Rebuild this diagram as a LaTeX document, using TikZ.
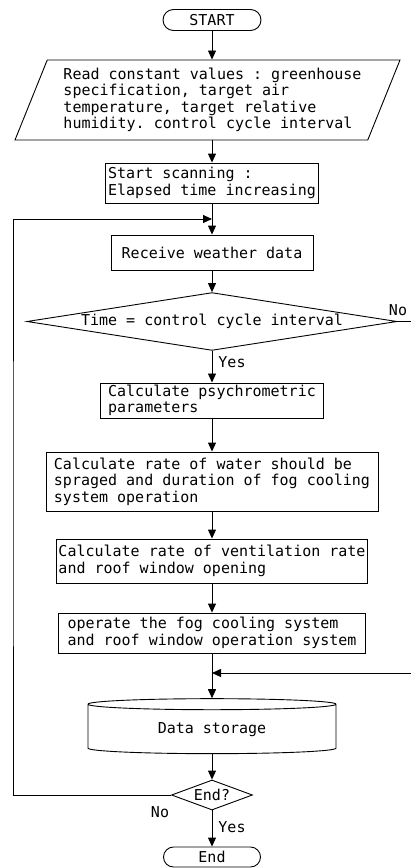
\documentclass[tikz,border=0pt]{standalone}
\usepackage{fontspec}
\setmonofont{DejaVu Sans Mono}
\usepackage{tikz}
\usetikzlibrary{shapes.misc, shapes.geometric, arrows.meta}

\tikzset{
    flowtext/.style={font=\ttfamily\fontsize{15}{16.5}\selectfont},
    procbox/.style={flowtext, draw, rectangle, align=left, inner sep=2pt},
    termbox/.style={flowtext, draw, rounded rectangle, inner sep=1pt},
    iobox/.style={flowtext, draw, trapezium, trapezium left angle=64, trapezium right angle=116, trapezium stretches body, align=left, inner sep=1pt},
    testbox/.style={flowtext, draw, diamond, inner sep=1pt},
    storebox/.style={flowtext, draw, cylinder, shape border rotate=90, aspect=0.1, inner sep=1pt},
    flowarrow/.style={-{Triangle[length=9pt,width=8pt]}},
    flowlabel/.style={flowtext, inner sep=1pt}
}

\begin{document}
\begin{tikzpicture}[x=1pt, y=-1pt, line width=0.9pt]
    \def \axis {212}
    \useasboundingbox (0,0) rectangle (411,868);
    \node[termbox, minimum width=100pt, minimum height=21pt] (start) at (\axis,20) {START};
    \node[iobox, minimum width=385pt, minimum height=80pt] (input) at (207.5,100) {\hspace*{10pt}Read constant values : greenhouse\\\hspace*{10pt}specification, target air\\\hspace*{10pt}temperature, target relative\\\hspace*{10pt}humidity. control cycle interval};
    \node[procbox, minimum width=213pt, minimum height=40pt] (scan) at (\axis,183) {Start scanning :\\Elapsed time increasing};
    \coordinate (loopin) at (\axis,219);
    \node[procbox, minimum width=202pt, minimum height=35pt] (receive) at (\axis,252.5) {Receive weather data};
    \node[testbox, aspect=6.4, minimum width=365pt, minimum height=57pt] (cycle) at (\axis,321.5) {Time = control cycle interval};
    \node[procbox, minimum width=223pt, minimum height=35pt] (psych) at (\axis,400.5) {Calculate psychrometric\\parameters};
    \node[procbox, minimum width=332pt, minimum height=59pt] (water) at (\axis,481.5) {Calculate rate of water should be\\spraged and duration of fog cooling\\system operation};
    \node[procbox, minimum width=311pt, minimum height=44pt] (vent) at (\axis,561) {Calculate rate of ventilation rate\\and roof window opening};
    \node[procbox, minimum width=307pt, minimum height=40pt] (operate) at (\axis,633) {operate the fog cooling system\\and roof window operation system};
    \coordinate (merge) at (\axis,673);
    \node[storebox, minimum width=248pt, minimum height=55pt] (storage) at (\axis,729.5) {Data storage};
    \node[testbox, aspect=2.7, minimum width=81pt, minimum height=30pt] (endq) at (\axis,795) {End?};
    \node[termbox, minimum width=99pt, minimum height=20pt] (stop) at (\axis,857) {End};

    \coordinate (noright) at (411,321.5);
    \coordinate (backin) at (411,673);
    \coordinate (loopleft) at (13,500);

    \draw[flowarrow] (start.south) -- (start.south |- input.north);
    \draw[flowarrow] (start.south |- input.south) -- (scan.north);
    \draw[flowarrow] (scan) -- (receive);
    \draw[flowarrow] (receive) -- (cycle);
    \draw[flowarrow] (cycle) -- (psych);
    \draw (cycle.east) -- (noright);
    \draw[flowarrow] (psych) -- (water);
    \draw[flowarrow] (water) -- (vent);
    \draw[flowarrow] (vent) -- (operate);
    \draw[flowarrow] (operate) -- (storage);
    \draw[flowarrow] (backin) -- (merge);
    \draw[flowarrow] (storage) -- (endq);
    \draw[flowarrow] (endq) -- (stop);
    \draw[flowarrow] (endq.west) -| (loopleft) |- (loopin);

    \node[flowlabel] (yesa) at (232,362) {Yes};
    \node[flowlabel] (noa) at (398,310) {No};
    \node[flowlabel] (nob) at (160,812) {No};
    \node[flowlabel] (yesb) at (232,827) {Yes};
\end{tikzpicture}
\end{document}
